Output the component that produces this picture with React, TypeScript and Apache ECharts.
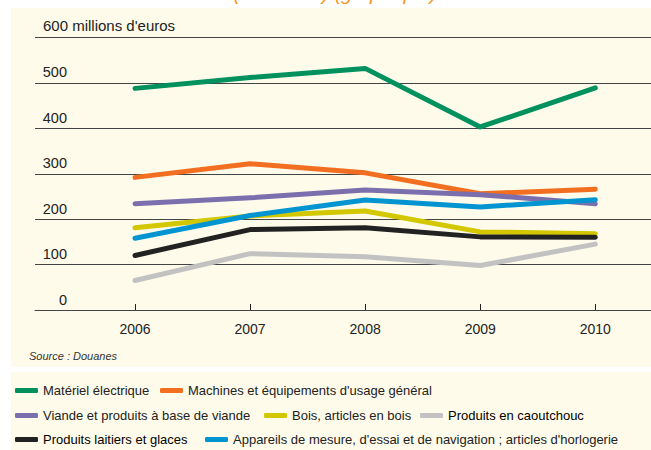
import React, { useEffect, useRef } from "react";
import * as echarts from "echarts";

const years = [2006, 2007, 2008, 2009, 2010];
const yTicks = [0, 100, 200, 300, 400, 500, 600];
const seriesNames = [
  "Matériel électrique",
  "Machines et équipements d'usage général",
  "Viande et produits à base de viande",
  "Bois, articles en bois",
  "Produits en caoutchouc",
  "Produits laitiers et glaces",
  "Appareils de mesure, d'essai et de navigation ; articles d'horlogerie",
];
const materielElectrique = [488, 512, 532, 403, 489];
const machines = [292, 322, 302, 256, 266];
const viande = [234, 247, 264, 254, 234];
const bois = [181, 207, 218, 172, 168];
const caoutchouc = [65, 124, 117, 98, 145];
const laitiers = [120, 177, 181, 161, 160];
const appareils = [158, 208, 242, 227, 243];
const seriesValues = [materielElectrique, machines, viande, bois, caoutchouc, laitiers, appareils];
const colors = ["#00915f", "#f26f21", "#7b70ad", "#d3c700", "#c2c2c2", "#222222", "#0095d0"];

const FONT = "'Liberation Sans Narrow', 'Arial Narrow', 'Liberation Sans', sans-serif";

export default function App() {
  const ref = useRef<HTMLDivElement>(null);
  useEffect(() => {
    if (!ref.current) return;
    const chart = echarts.init(ref.current, undefined, { renderer: "svg" });
    const legendPos = [
      { left: 15, y: 391 },
      { left: 160, y: 391 },
      { left: 15, y: 416 },
      { left: 264, y: 416 },
      { left: 420, y: 416 },
      { left: 15, y: 440 },
      { left: 205, y: 440 },
    ];
    const legends = seriesNames.map((n, i) => ({
      data: [n],
      left: legendPos[i].left,
      top: legendPos[i].y - 7,
      padding: 0,
      icon: "roundRect",
      itemWidth: 23,
      itemHeight: 5,
      selectedMode: false,
      itemStyle: { borderWidth: 0 },
      textStyle: {
        fontFamily: FONT,
        fontSize: 13,
        color: i === 4 || i === 5 ? "#000" : "#222",
      },
    }));
    chart.setOption({
      animation: false,
      backgroundColor: "#ffffff",
      graphic: [
        { type: "rect", z: -10, shape: { x: 11, y: 8, width: 640, height: 359 }, style: { fill: "#fefbea" }, silent: true },
        { type: "rect", z: -10, shape: { x: 11, y: 372, width: 640, height: 78 }, style: { fill: "#fefbea" }, silent: true },
        {
          type: "text",
          x: 335,
          y: 3,
          style: {
            text: "(en valeur) (graphique)",
            fill: "#f7941d",
            font: "italic 20px " + FONT,
            align: "center",
            verticalAlign: "bottom",
          },
        },
        {
          type: "text",
          x: 29,
          y: 356,
          style: {
            text: "Source : Douanes",
            fill: "#333",
            font: "italic 11px " + FONT,
            align: "left",
            verticalAlign: "middle",
          },
        },
      ],
      legend: legends,
      grid: { left: 35, right: 0, top: 37.5, bottom: 140, containLabel: false },
      xAxis: {
        type: "value",
        min: 2005.131,
        max: 2010.484,
        axisLine: { show: true, lineStyle: { color: "#444", width: 1 } },
        axisTick: { show: true, inside: true, length: 6, customValues: years, lineStyle: { color: "#222" } },
        axisLabel: {
          customValues: years,
          formatter: (v: number) => String(v),
          margin: 12,
          fontFamily: FONT,
          fontSize: 14,
          color: "#222",
        },
        splitLine: { show: false },
      },
      yAxis: {
        type: "value",
        min: yTicks[0],
        max: yTicks[yTicks.length - 1],
        interval: 100,
        axisLine: { show: false },
        axisTick: { show: false },
        splitLine: { show: true, lineStyle: { color: "#444", width: 1 } },
        axisLabel: {
          align: "left",
          verticalAlign: "bottom",
          margin: -8,
          fontFamily: FONT,
          fontSize: 14.5,
          color: "#222",
          formatter: (v: number) => (v === 600 ? "{t|600 millions d'euros}" : "{n|" + v + "}"),
          rich: {
            n: { width: 24, align: "right", fontFamily: FONT, fontSize: 14.5, color: "#222", padding: [0, 0, 3, 0] },
            t: { fontFamily: FONT, fontSize: 15, color: "#222", padding: [0, 0, 5, 0] },
          },
        },
      },
      series: seriesNames.map((n, i) => ({
        name: n,
        type: "line",
        data: years.map((y, j) => [y, seriesValues[i][j]]),
        symbol: "none",
        color: colors[i],
        lineStyle: { width: 5, color: colors[i], cap: "round", join: "round" },
        itemStyle: { color: colors[i] },
      })),
    });
    return () => chart.dispose();
  }, []);
  return <div ref={ref} style={{ position: "fixed", left: 0, top: 0, width: 651, height: 450 }} />;
}
